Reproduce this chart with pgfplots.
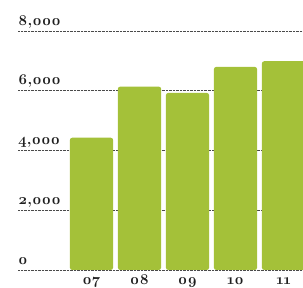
\documentclass[border=0pt]{standalone}
\usepackage{fontspec}
\setmainfont{Latin Modern Roman}[Numbers=OldStyle]
\usepackage{pgfplots}
\pgfplotsset{compat=1.18}
\definecolor{barg}{HTML}{A4C139}
\definecolor{gridc}{HTML}{4A4A4A}
\definecolor{txt}{HTML}{1E1E1E}
\newcommand{\lab}[1]{\fontsize{15}{17}\selectfont\bfseries #1}
\begin{document}
\begin{tikzpicture}[x=1bp,y=1bp]
\useasboundingbox (0,0) rectangle (303,288);
\begin{axis}[
  at={(18bp,18bp)}, anchor=south west,
  scale only axis, width=285bp, height=239bp,
  xmin=-1.531, xmax=4.406, ymin=0, ymax=8000,
  axis line style={draw=none}, tick style={draw=none},
  ymajorgrids, grid style={densely dotted, gridc, line width=1bp},
  ytick={0,2000,4000,6000,8000},
  yticklabels={{\lab{0}},{\lab{2,000}},{\lab{4,000}},{\lab{6,000}},{\lab{8,000}}},
  yticklabel style={anchor=base west, inner sep=0pt, xshift=0bp, yshift=6bp, text=txt},
  xtick={0,1,2,3,4},
  xticklabels={{\lab{07}},{\lab{08}},{\lab{09}},{\lab{10}},{\lab{11}}},
  xticklabel style={anchor=base, inner sep=0pt, yshift=-10bp, text=txt},
  ybar, bar width=43.3bp, bar shift=0pt,
]
\addplot[fill=barg, draw=none, rounded corners=2.5bp] coordinates {(0,4430) (1,6140) (2,5930) (3,6800) (4,6990)};
\end{axis}
\end{tikzpicture}
\end{document}
